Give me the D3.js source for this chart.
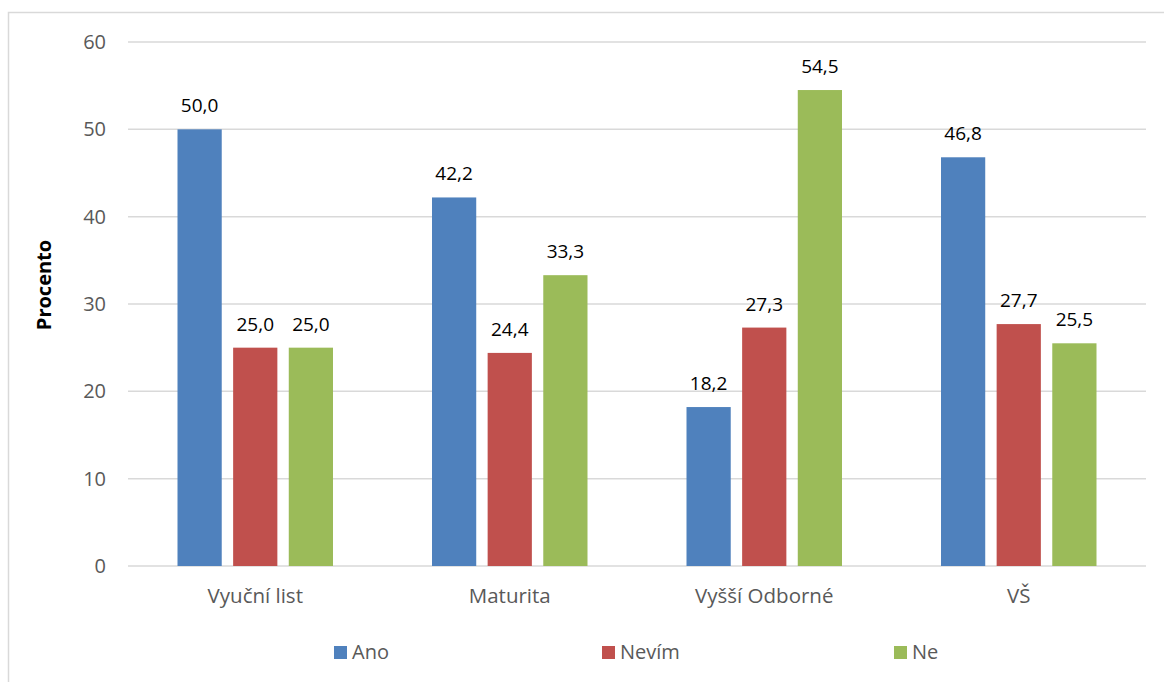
<!DOCTYPE html>
<html><head><meta charset="utf-8">
<script src="https://cdn.jsdelivr.net/npm/d3@7"></script>
<style>body{margin:0;background:#fff}svg{display:block}text{font-family:"Open Sans",sans-serif}</style>
</head><body>
<svg id="c" width="1164" height="682"></svg>
<script>
const categories = ["Vyuční list", "Maturita", "Vyšší Odborné", "VŠ"];
const seriesNames = ["Ano", "Nevím", "Ne"];
const ano = [50.0, 42.2, 18.2, 46.8];
const nevim = [25.0, 24.4, 27.3, 27.7];
const ne = [25.0, 33.3, 54.5, 25.5];
const yTicks = [0, 10, 20, 30, 40, 50, 60];
const colors = ["#4F81BD", "#C0504D", "#9BBB59"];
const series = [ano, nevim, ne];

const svg = d3.select("#c");
// frame
svg.append("rect").attr("x", 8.5).attr("y", 12.5).attr("width", 1170).attr("height", 690)
  .attr("fill", "none").attr("stroke", "#D9D9D9").attr("stroke-width", 1.5);

const x0 = d3.scaleBand().domain(categories).range([128, 1146]).paddingInner(0).paddingOuter(0);
const y = d3.scaleLinear().domain([0, 60]).range([566, 42]);
const x1 = d3.scaleBand().domain(seriesNames).range([49.5, x0.bandwidth() - 49.5]).paddingInner(0.205).paddingOuter(0);

// grid
svg.append("g").selectAll("line").data(yTicks).join("line")
  .attr("x1", 128).attr("x2", 1146).attr("y1", d => y(d)).attr("y2", d => y(d))
  .attr("stroke", "#D9D9D9").attr("stroke-width", 1.5);

// y axis labels
const yAxis = svg.append("g").attr("transform", "translate(128,0)")
  .call(d3.axisLeft(y).tickValues(yTicks).tickSize(0).tickPadding(22));
yAxis.select(".domain").remove();
yAxis.selectAll("text").attr("font-family", "'Open Sans',sans-serif").attr("font-size", 20).attr("fill", "#595959");

// x axis labels
const xAxis = svg.append("g").attr("transform", "translate(0,566)")
  .call(d3.axisBottom(x0).tickSize(0).tickPadding(0));
xAxis.select(".domain").remove();
xAxis.selectAll("text").attr("font-family", "'Open Sans',sans-serif").attr("font-size", 20.5).attr("fill", "#595959")
  .attr("dy", null).attr("y", 37);

// bars
series.forEach((vals, si) => {
  const g = svg.append("g");
  g.selectAll("rect").data(vals).join("rect")
    .attr("x", (d, i) => x0(categories[i]) + x1(seriesNames[si]))
    .attr("y", d => y(d))
    .attr("width", x1.bandwidth())
    .attr("height", d => y(0) - y(d))
    .attr("fill", colors[si]);
  g.selectAll("text").data(vals).join("text")
    .attr("x", (d, i) => x0(categories[i]) + x1(seriesNames[si]) + x1.bandwidth() / 2)
    .attr("y", d => y(d) - 17)
    .attr("text-anchor", "middle").attr("font-size", 19).attr("fill", "#000")
    .text(d => d.toFixed(1).replace(".", ","));
});

// y title
svg.append("text").attr("transform", "translate(51,285) rotate(-90)")
  .attr("text-anchor", "middle").attr("font-size", 20).attr("font-weight", "bold").attr("fill", "#000")
  .text("Procento");

// legend
const legX = [334, 602, 894];
const leg = svg.append("g");
seriesNames.forEach((n, i) => {
  leg.append("rect").attr("x", legX[i]).attr("y", 646).attr("width", 13).attr("height", 13).attr("fill", colors[i]);
  leg.append("text").attr("x", legX[i] + 18).attr("y", 659).attr("font-size", 20).attr("fill", "#595959").text(n);
});
</script>
</body></html>
